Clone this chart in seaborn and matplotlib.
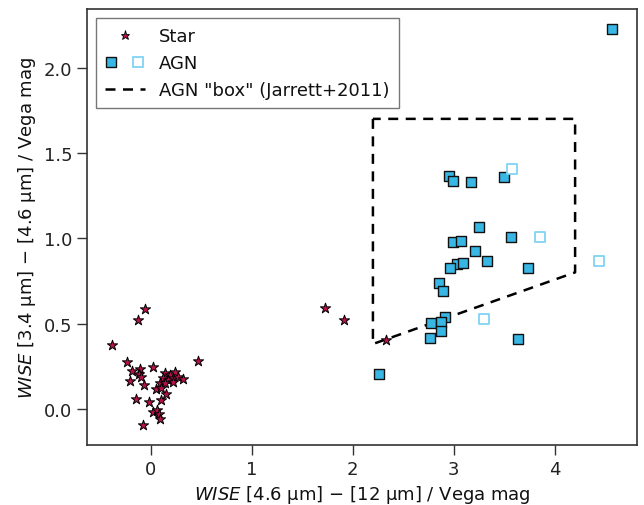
import numpy as np
import pandas as pd
import matplotlib
matplotlib.use("Agg")
import matplotlib.pyplot as plt
import seaborn as sns
from matplotlib.legend_handler import HandlerTuple
from matplotlib.lines import Line2D

# Stars: x = W2-W3, y = W1-W2
star_x = [-0.053, -0.128, -0.381, 0.469, -0.233, -0.184, -0.102, -0.118, -0.099, 0.026,
          -0.207, -0.060, -0.145, -0.014, 0.108, 0.020, 0.065, 0.085, 0.092, -0.073,
          0.141, 0.190, 0.239, 0.124, 0.173, 0.223, 0.272, 0.321, 0.092, 0.141,
          0.223, 0.059, 0.108, 0.158, 1.727, 1.914, 2.331]
star_y = [0.585, 0.520, 0.374, 0.281, 0.273, 0.222, 0.234, 0.205, 0.185, 0.247,
          0.162, 0.140, 0.057, 0.037, 0.049, -0.016, -0.006, -0.031, -0.060, -0.096,
          0.209, 0.199, 0.218, 0.180, 0.170, 0.180, 0.189, 0.175, 0.150, 0.150,
          0.160, 0.115, 0.121, 0.086, 0.591, 0.520, 0.404]

# AGN (filled)
agn_x = [2.956, 2.988, 3.172, 3.498, 3.251, 3.569, 2.995, 3.074, 3.212, 3.330,
         3.031, 3.087, 2.962, 3.737, 2.857, 2.893, 2.909, 2.771, 2.870, 2.877,
         2.768, 3.632, 2.262, 4.565]
agn_y = [1.363, 1.335, 1.327, 1.358, 1.066, 1.008, 0.977, 0.984, 0.926, 0.867,
         0.850, 0.852, 0.825, 0.823, 0.735, 0.690, 0.536, 0.501, 0.511, 0.458,
         0.415, 0.408, 0.205, 2.228]

# AGN (open)
agn_open_x = [3.576, 3.855, 4.439, 3.303]
agn_open_y = [1.408, 1.010, 0.865, 0.526]

# Jarrett+2011 box corners
box_x = [2.2, 2.2, 4.2, 4.2, 2.2]
box_y = [1.7, 0.38, 0.80, 1.7, 1.7]

sns.set_style("ticks")
plt.rcParams['font.family'] = ['DejaVu Sans']
plt.rcParams['text.color'] = '#111111'
plt.rcParams['axes.labelcolor'] = '#111111'
plt.rcParams['xtick.color'] = '#222222'
plt.rcParams['ytick.color'] = '#222222'

fig = plt.figure(figsize=(6.44, 5.06), dpi=100)
ax = fig.add_axes([87/644, 1-446/506, (637-87)/644, (446-10)/506])

stars = pd.DataFrame({"x": star_x, "y": star_y})
agn = pd.DataFrame({"x": agn_x, "y": agn_y})
agn_o = pd.DataFrame({"x": agn_open_x, "y": agn_open_y})

ax.plot(box_x, box_y, ls=(0, (4, 3)), color="black", lw=1.8, zorder=1)
sns.scatterplot(data=agn, x="x", y="y", marker="s", s=55, color="#38b6e4",
                edgecolor="#111111", linewidth=1.0, ax=ax, zorder=3)
sns.scatterplot(data=agn_o, x="x", y="y", marker="s", s=55, color="white",
                edgecolor="#7fd3f3", linewidth=1.3, ax=ax, zorder=3)
sns.scatterplot(data=stars, x="x", y="y", marker="*", s=60, color="#b3124a",
                edgecolor="black", linewidth=0.7, ax=ax, zorder=4)

ax.set_xticks([0, 1, 2, 3, 4])
ax.set_yticks([0.0, 0.5, 1.0, 1.5, 2.0])
ax.set_xlabel(r"$\mathit{WISE}$ [4.6 µm] − [12 µm] / Vega mag", fontsize=13)
ax.set_ylabel(r"$\mathit{WISE}$ [3.4 µm] − [4.6 µm] / Vega mag", fontsize=13)
ax.tick_params(labelsize=13, length=7, width=1, color="#333333")
for sp in ax.spines.values():
    sp.set_color("#333333")
    sp.set_linewidth(1.2)

h_star = Line2D([], [], ls="none", marker="*", ms=6.5, mfc="#b3124a", mec="black", mew=0.6)
h_agn1 = Line2D([], [], ls="none", marker="s", ms=6.5, mfc="#38b6e4", mec="#111111", mew=1.0)
h_agn2 = Line2D([], [], ls="none", marker="s", ms=6.5, mfc="white", mec="#7fd3f3", mew=1.3)
h_box = Line2D([], [], ls=(0, (4, 3)), color="black", lw=1.8)
leg = ax.legend([h_star, (h_agn1, h_agn2), h_box],
                ["Star", "AGN", 'AGN "box" (Jarrett+2011)'],
                handler_map={tuple: HandlerTuple(ndivide=None, pad=0.8)},
                loc="upper left", fontsize=13, fancybox=False, framealpha=1,
                edgecolor="#777777", handlelength=2.2, borderpad=0.5,
                labelspacing=0.5)
leg.get_frame().set_linewidth(1.0)

fig.savefig("out.png", dpi=100)
